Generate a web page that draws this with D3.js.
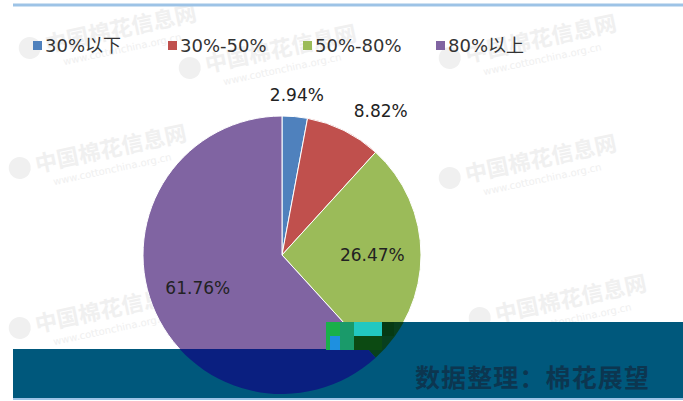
<!DOCTYPE html>
<html>
  <head>
    <meta charset="utf-8">
    <script src="https://d3js.org/d3.v7.min.js"></script>
    <style>
      body { margin: 0; background: #fff; }
      text { font-family: "DejaVu Sans", "Noto Sans CJK SC", sans-serif; }
    </style>
  </head>
  <body>
    <script>

    // chart data
    var categories = ["30%以下", "30%-50%", "50%-80%", "80%以上"];
    var shares = [2.94, 8.82, 26.47, 61.76];
    var colors = ["#4f81bd", "#c0504d", "#9bbb59", "#8064a2"];
    var sourceText = "数据整理：棉花展望";

    var w = 683, h = 401;
    var cx = 282, cy = 255, r = 139;

    var svg = d3.select("body").append("svg")
      .attr("width", w)
      .attr("height", h);

    // faint watermarks in the background
    var marks = [[20, 50], [180, 70], [440, 60], [10, 170], [440, 180], [10, 330], [470, 320]];
    marks.forEach(function(m) {
      var g = svg.append("g")
        .attr("transform", "translate(" + m[0] + "," + m[1] + ") rotate(-12)")
        .attr("fill", "#e4e4e4")
        .attr("opacity", 0.55);
      g.append("circle").attr("cx", 10).attr("cy", 0).attr("r", 11);
      g.append("text").attr("x", 26).attr("y", 8)
        .attr("font-size", 22).attr("font-weight", "bold")
        .attr("font-family", "Noto Sans CJK SC").text("中国棉花信息网");
      g.append("text").attr("x", 40).attr("y", 24)
        .attr("font-size", 10).text("www.cottonchina.org.cn");
    });

    // top rule
    svg.append("line")
      .attr("x1", 13).attr("x2", w)
      .attr("y1", 5).attr("y2", 5)
      .attr("stroke", "#9dc3e6")
      .attr("stroke-width", 3);

    // legend
    var legendX = [33, 168, 303, 436];
    var legend = svg.selectAll(".legend")
      .data(categories)
      .enter().append("g")
      .attr("class", "legend")
      .attr("transform", function(d, i) { return "translate(" + legendX[i] + ",52)"; });
    legend.append("rect")
      .attr("x", 0).attr("y", -11)
      .attr("width", 9).attr("height", 9)
      .attr("fill", function(d, i) { return colors[i]; });
    legend.append("text")
      .attr("x", 12).attr("y", 0)
      .attr("font-size", 18)
      .attr("fill", "#333")
      .attr("font-family", "DejaVu Sans, Noto Sans CJK SC")
      .text(function(d) { return d; });

    // pie
    var pie = d3.pie().sort(null).value(function(d) { return d; });
    var arc = d3.arc().innerRadius(0).outerRadius(r);
    var arcs = pie(shares);

    var pieG = svg.append("g").attr("transform", "translate(" + cx + "," + cy + ")");
    pieG.selectAll("path")
      .data(arcs)
      .enter().append("path")
      .attr("d", arc)
      .attr("fill", function(d, i) { return colors[i]; })
      .attr("stroke", "#fff")
      .attr("stroke-width", 1);

    // slice labels: small slices outside, large ones inside
    pieG.selectAll(".lbl")
      .data(arcs)
      .enter().append("text")
      .attr("class", "lbl")
      .attr("font-size", 17)
      .attr("fill", "#222")
      .attr("dy", "0.35em")
      .each(function(d) {
        var a = (d.startAngle + d.endAngle) / 2;
        var small = d.data < 10;
        var rr = small ? r + 22 : r * 0.65;
        var x = rr * Math.sin(a), y = -rr * Math.cos(a);
        d3.select(this)
          .attr("x", x).attr("y", y)
          .attr("text-anchor", small && Math.sin(a) > 0.3 ? "start" : "middle");
      })
      .text(function(d) { return d3.format(".2f")(d.data) + "%"; });

    // bottom banner covering the lower part of the pie
    var bannerPath = "M13,349 L326,349 L326,322 L683,322 L683,398 L13,398 Z";
    svg.append("clipPath").attr("id", "bannerClip")
      .append("path").attr("d", bannerPath);
    svg.append("path")
      .attr("d", bannerPath)
      .attr("fill", "#00587c");

    var inBanner = svg.append("g").attr("clip-path", "url(#bannerClip)")
      .append("g").attr("transform", "translate(" + cx + "," + cy + ")");
    inBanner.selectAll("path")
      .data(arcs)
      .enter().append("path")
      .attr("d", arc)
      .attr("fill", function(d, i) { return i === 2 ? "#08401e" : "#0a1f80"; });

    // glitch block at the banner corner
    var blocks = [
      [326, 322, 14, 28, "#19b04a"], [330, 336, 10, 14, "#1e90e0"],
      [340, 322, 14, 28, "#1a9a6a"], [354, 322, 28, 14, "#22c8c0"],
      [354, 336, 28, 14, "#0c4a12"], [382, 322, 12, 14, "#063a14"]
    ];
    blocks.forEach(function(b) {
      svg.append("rect").attr("x", b[0]).attr("y", b[1])
        .attr("width", b[2]).attr("height", b[3]).attr("fill", b[4]);
    });

    svg.append("line")
      .attr("x1", 13).attr("x2", w)
      .attr("y1", 399).attr("y2", 399)
      .attr("stroke", "#9dc3e6")
      .attr("stroke-width", 2);

    svg.append("text")
      .attr("x", 415).attr("y", 387)
      .attr("font-size", 25)
      .attr("font-weight", "bold")
      .attr("font-family", "Noto Sans CJK SC")
      .attr("fill", "#0c3650")
      .attr("textLength", 234)
      .text(sourceText);

    </script>
  </body>
</html>
